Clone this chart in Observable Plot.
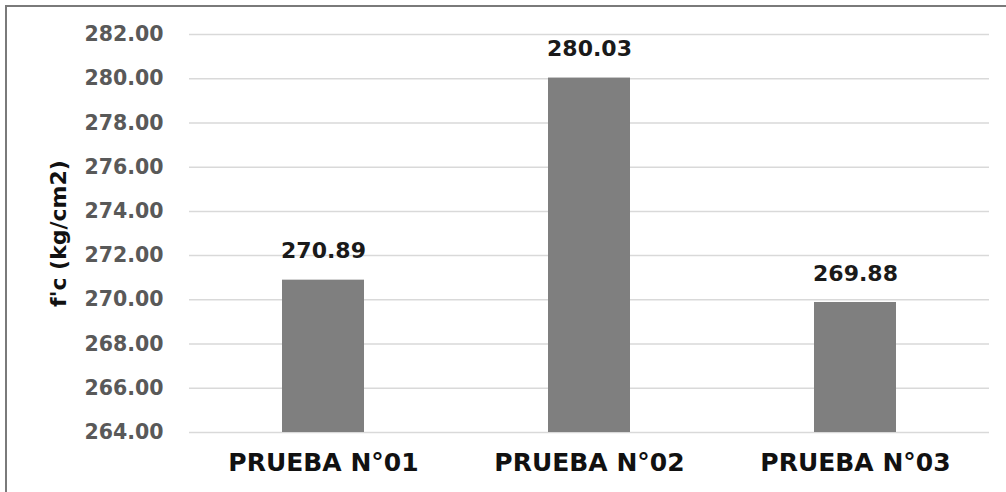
<!DOCTYPE html>
<html>
<head>
<meta charset="utf-8">
<script src="https://cdn.jsdelivr.net/npm/d3@7"></script>
<script src="https://cdn.jsdelivr.net/npm/@observablehq/plot@0.6"></script>
<style>
  html, body { margin: 0; padding: 0; background: #fff; }
  #wrap { position: relative; width: 1006px; height: 492px; overflow: hidden; }
  #frame { position: absolute; left: 5px; top: 5px; width: 1100px; height: 600px;
           border-left: 2px solid #7a7a7a; border-top: 2px solid #7a7a7a; box-sizing: border-box; pointer-events: none; }
</style>
</head>
<body>
<div id="wrap"><div id="frame"></div></div>
<script>
const categories = ["PRUEBA N°01", "PRUEBA N°02", "PRUEBA N°03"];
const values = [270.89, 280.03, 269.88];
const yTicks = [264, 266, 268, 270, 272, 274, 276, 278, 280, 282];
const yTitle = "f'c (kg/cm2)";

const data = categories.map((c, i) => ({cat: c, val: values[i]}));

const chart = Plot.plot({
  width: 1006,
  height: 492,
  marginLeft: 189,
  marginRight: 17,
  marginTop: 34,
  marginBottom: 60,
  style: {fontFamily: "'DejaVu Sans', sans-serif", background: "transparent", overflow: "visible"},
  x: {domain: categories, paddingInner: 0.69, paddingOuter: 0.345, label: null},
  y: {domain: [264, 282], label: null},
  marks: [
    Plot.gridY(yTicks, {stroke: "#d9d9d9", strokeOpacity: 1, strokeWidth: 1.5}),
    Plot.barY(data, {x: "cat", y1: 264, y2: "val", fill: "#7f7f7f"}),
    Plot.text(data, {x: "cat", y: "val", text: d => d.val.toFixed(2), dy: -29,
      fontSize: 22, fontWeight: "bold", fill: "#1a1a1a"}),
    Plot.axisY(yTicks, {tickSize: 0, tickPadding: 26, tickFormat: d => d.toFixed(2),
      fontSize: 20.5, fontWeight: "bold", fill: "#595959", label: null}),
    Plot.axisX({tickSize: 0, tickPadding: 21, fontSize: 25, fontWeight: "bold", fill: "#111", label: null}),
    Plot.text([yTitle], {frameAnchor: "left", textAnchor: "middle", dx: -131, rotate: -90, text: d => d,
      fontSize: 22, fontWeight: "bold", fill: "#111"})
  ]
});
document.getElementById("wrap").appendChild(chart);
chart.style.position = "absolute";
chart.style.left = "0";
chart.style.top = "0";
</script>
</body>
</html>
